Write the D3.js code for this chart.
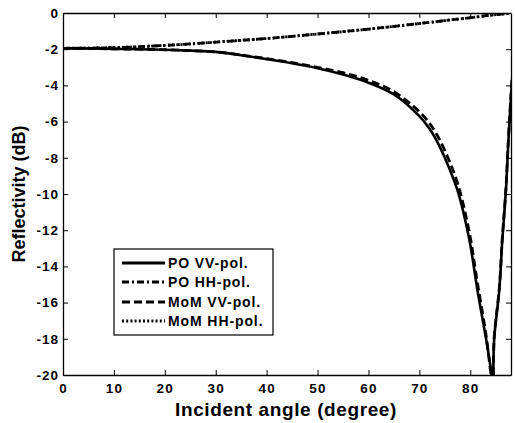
<!DOCTYPE html>
<html>
<head>
<meta charset="utf-8">
<script src="https://cdn.jsdelivr.net/npm/d3@7"></script>
<style>
  html, body { margin: 0; padding: 0; background: #fff; }
  svg { display: block; }
  text { font-family: "Liberation Sans", Arial, sans-serif; font-weight: bold; fill: #000; }
</style>
</head>
<body>
<svg id="chart" width="515" height="423"></svg>
<script>
// ---- data ----
const angles = [0, 5, 10, 15, 20, 25, 30, 35, 40, 45, 50, 55, 60, 65, 70, 72, 73.3, 75, 77.5, 79.8, 81.4, 83.1, 84.1, 84.4, 84.7, 85.7, 86.3, 87, 87.5, 88, 88.5];
const poVV  = [-1.95, -1.96, -1.98, -2.0, -2.03, -2.08, -2.15, -2.33, -2.55, -2.78, -3.05, -3.4, -3.85, -4.5, -5.7, -6.4, -7.0, -8.0, -9.8, -12.5, -15.3, -18.0, -19.8, -20.6, -18.0, -15.3, -12.5, -9.8, -7.0, -4.6, -2.6];
const momVV = [-1.95, -1.96, -1.98, -2.0, -2.03, -2.08, -2.15, -2.32, -2.52, -2.74, -3.0, -3.3, -3.72, -4.35, -5.45, -6.1, -6.65, -7.6, -9.4, -12.1, -14.9, -17.8, -20.0, -20.4, -17.9, -15.2, -12.4, -9.7, -6.9, -4.5, -2.5];
const poHH  = [-1.95, -1.94, -1.91, -1.86, -1.79, -1.71, -1.61, -1.51, -1.41, -1.29, -1.16, -1.03, -0.89, -0.74, -0.58, -0.52, -0.48, -0.42, -0.34, -0.27, -0.21, -0.15, -0.12, -0.11, -0.10, -0.07, -0.06, -0.04, -0.03, -0.02, -0.01];
const momHH = [-1.95, -1.94, -1.91, -1.86, -1.79, -1.71, -1.61, -1.51, -1.41, -1.29, -1.16, -1.03, -0.89, -0.74, -0.58, -0.52, -0.48, -0.42, -0.34, -0.27, -0.21, -0.15, -0.12, -0.11, -0.10, -0.07, -0.06, -0.04, -0.03, -0.02, -0.01];
const xTicks = [0, 10, 20, 30, 40, 50, 60, 70, 80];
const yTicks = [0, -2, -4, -6, -8, -10, -12, -14, -16, -18, -20];
const seriesNames = ["PO VV-pol.", "PO HH-pol.", "MoM VV-pol.", "MoM HH-pol."];
const seriesValues = [poVV, poHH, momVV, momHH];
const seriesDash = ["none", "7,3,2,3", "8,4", "2,2.2"];

// ---- layout ----
const svg = d3.select("#chart");
const L = 63, R = 511, T = 13, B = 375;
const x = d3.scaleLinear().domain([0, 88]).range([L, R]);
const y = d3.scaleLinear().domain([-20, 0]).range([B, T]);

svg.append("defs").append("clipPath").attr("id", "clip")
  .append("rect").attr("x", L).attr("y", T).attr("width", R - L).attr("height", B - T);

// axes with inward ticks
const tl = 5;
svg.append("g").attr("transform", `translate(0,${B})`)
  .call(d3.axisBottom(x).tickValues(xTicks).tickSizeInner(-tl).tickSizeOuter(0).tickPadding(8))
  .call(g => g.selectAll("text").attr("font-size", 13.5).attr("letter-spacing", 1.2).attr("dy", "0.71em"));
svg.append("g").attr("transform", `translate(0,${T})`)
  .call(d3.axisTop(x).tickValues(xTicks).tickSizeInner(-tl).tickSizeOuter(0).tickFormat(""));
svg.append("g").attr("transform", `translate(${L},0)`)
  .call(d3.axisLeft(y).tickValues(yTicks).tickSizeInner(-tl).tickSizeOuter(0).tickPadding(4).tickFormat(d => d3.format("d")(d).replace("−", "-")))
  .call(g => g.selectAll("text").attr("font-size", 13.5).attr("letter-spacing", 1.0));
svg.append("g").attr("transform", `translate(${R},0)`)
  .call(d3.axisRight(y).tickValues(yTicks).tickSizeInner(-tl).tickSizeOuter(0).tickFormat(""));
svg.selectAll(".domain").attr("stroke", "#000").attr("stroke-width", 1.3);
svg.selectAll(".tick line").attr("stroke", "#000").attr("stroke-width", 1);
svg.selectAll(".tick text").attr("fill", "#000");

// curves
const plot = svg.append("g").attr("clip-path", "url(#clip)");
seriesValues.forEach((vals, k) => {
  plot.append("path").datum(vals)
    .attr("d", d3.line().x((d, i) => x(angles[i])).y(d => y(d)).curve(d3.curveCatmullRom.alpha(0.5)))
    .attr("fill", "none").attr("stroke", "#000")
    .attr("stroke-width", k === 0 ? 2.6 : 2.8)
    .attr("stroke-dasharray", seriesDash[k]);
});

// axis titles
svg.append("text").attr("x", 286).attr("y", 416).attr("text-anchor", "middle")
  .attr("font-size", 19).attr("letter-spacing", 0.6).text("Incident angle (degree)");
svg.append("text").attr("transform", `translate(25,${(T + B) / 2}) rotate(-90)`)
  .attr("text-anchor", "middle").attr("font-size", 18).text("Reflectivity (dB)");

// legend
const lg = svg.append("g");
lg.append("rect").attr("x", 114).attr("y", 249).attr("width", 159).attr("height", 86)
  .attr("fill", "#fff").attr("stroke", "#000").attr("stroke-width", 1.2);
const rowY = [263, 282, 302, 321];
seriesNames.forEach((name, k) => {
  lg.append("line").attr("x1", 122).attr("x2", 165).attr("y1", rowY[k]).attr("y2", rowY[k])
    .attr("stroke", "#000").attr("stroke-width", 2.8).attr("stroke-dasharray", seriesDash[k]);
  lg.append("text").attr("x", 168).attr("y", rowY[k]).attr("dy", "0.36em")
    .attr("font-size", 14).attr("letter-spacing", 0.9).text(name);
});
</script>
</body>
</html>
